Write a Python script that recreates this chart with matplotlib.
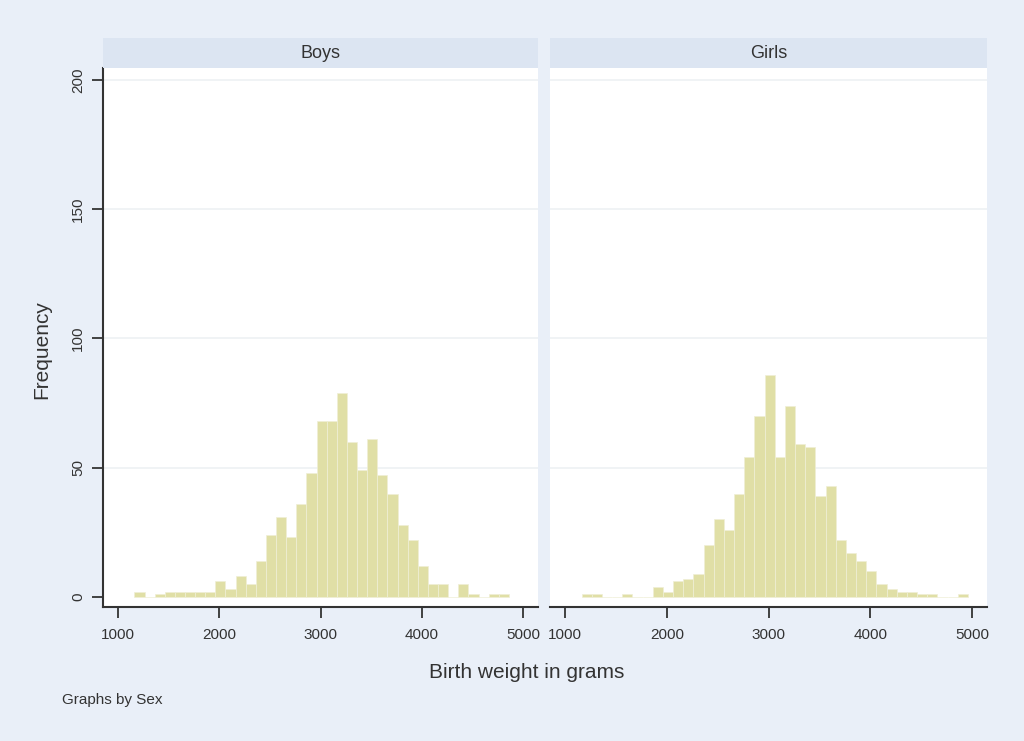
import matplotlib
matplotlib.use('Agg')
import matplotlib.pyplot as plt
import numpy as np

# ==========================================
# Data: birth weight counts per 100 g bin
# ==========================================
bin_start = 1160
bin_width = 100

boys_counts = [2, 0, 1, 2, 2, 2, 2, 2, 6, 3, 8, 5, 14, 24, 31, 23, 36, 48, 68, 68,
               79, 60, 49, 61, 47, 40, 28, 22, 12, 5, 5, 0, 5, 1, 0, 1, 1]
girls_counts = [1, 1, 0, 0, 1, 0, 0, 4, 2, 6, 7, 9, 20, 30, 26, 40, 54, 70, 86, 54,
                74, 59, 58, 39, 43, 22, 17, 14, 10, 5, 3, 2, 2, 1, 1, 0, 0, 1]

panel_titles = ['Boys', 'Girls']
x_ticks = [1000, 2000, 3000, 4000, 5000]
y_ticks = [0, 50, 100, 150, 200]

# ==========================================
# Style
# ==========================================
plt.rcParams['font.family'] = ['Liberation Sans', 'DejaVu Sans']
bg_color = '#e9eff8'
strip_color = '#dce5f2'
bar_color = '#e0dfa6'
text_color = '#333333'

fig = plt.figure(figsize=(10.24, 7.41), dpi=100)
fig.patch.set_facecolor(bg_color)

W, H = 1024, 741
panels = [(103, 538), (550, 987)]
top_px, bottom_px = 68, 607
strip_h = 30

for i, (counts, title) in enumerate(zip([boys_counts, girls_counts], panel_titles)):
    x0, x1 = panels[i]
    ax = fig.add_axes([x0 / W, 1 - bottom_px / H, (x1 - x0) / W, (bottom_px - top_px) / H])
    ax.set_facecolor('white')

    edges = bin_start + bin_width * np.arange(len(counts))
    ax.bar(edges, counts, width=bin_width, align='edge', color=bar_color,
           edgecolor='#efefd6', linewidth=0.5, zorder=2)

    ax.set_xlim(850, 5147)
    ax.set_ylim(-3.9, 204.6)
    for y in y_ticks[1:]:
        ax.axhline(y, color='#eef1f4', linewidth=1.2, zorder=1)

    ax.set_xticks(x_ticks)
    ax.set_xticklabels([str(t) for t in x_ticks], fontsize=11, color=text_color)
    ax.tick_params(axis='x', direction='out', length=8, width=1.3, color=text_color, pad=7)

    for s in ['top', 'right']:
        ax.spines[s].set_visible(False)
    ax.spines['bottom'].set_color(text_color)
    ax.spines['bottom'].set_linewidth(1.5)

    if i == 0:
        ax.set_yticks(y_ticks)
        ax.set_yticklabels([str(t) for t in y_ticks], fontsize=11, color=text_color,
                           rotation=90, va='center')
        ax.tick_params(axis='y', direction='out', length=8, width=1.3, color=text_color, pad=5)
        ax.spines['left'].set_color(text_color)
        ax.spines['left'].set_linewidth(1.5)
    else:
        ax.set_yticks([])
        ax.spines['left'].set_visible(False)

    # header strip with the panel name
    sax = fig.add_axes([x0 / W, 1 - top_px / H, (x1 - x0) / W, strip_h / H])
    sax.set_facecolor(strip_color)
    sax.set_xticks([])
    sax.set_yticks([])
    for s in sax.spines.values():
        s.set_visible(False)
    sax.text(0.5, 0.5, title, ha='center', va='center', fontsize=13,
             color=text_color, transform=sax.transAxes)

fig.text(42 / W, 1 - 350 / H, 'Frequency', rotation=90, ha='center', va='center',
         fontsize=15, color=text_color)
fig.text(527 / W, 1 - 673 / H, 'Birth weight in grams', ha='center', va='center',
         fontsize=15, color=text_color)
fig.text(62 / W, 1 - 700 / H, 'Graphs by Sex', ha='left', va='center',
         fontsize=11, color=text_color)

fig.savefig('out.png', dpi=100, facecolor=bg_color)
